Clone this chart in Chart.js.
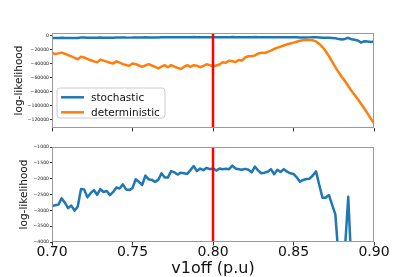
<!DOCTYPE html>
<html>
<head>
<meta charset="utf-8">
<script src="https://cdn.jsdelivr.net/npm/chart.js@4.4.1/dist/chart.umd.min.js"></script>
<style>
  html, body { margin: 0; padding: 0; background: #fff; }
  #wrap { position: relative; width: 415px; height: 277px; }
  canvas { position: absolute; left: 0; }
</style>
</head>
<body>
<div id="wrap">
  <canvas id="top" width="415" height="140" style="top:0"></canvas>
  <canvas id="bot" width="415" height="137" style="top:140px"></canvas>
</div>
<script>
// ---- data ----
const xStart = 0.70, xStep = 0.002;
const seriesNames = ['stochastic', 'deterministic'];
const refX = 0.80;

const stochastic = [
  -2860, -2840, -2820, -2620, -2760, -2930, -2850, -3010, -2880, -2330,
  -2340, -2590, -2460, -2360, -2510, -2330, -2420, -2390, -2520, -2420,
  -2280, -2310, -2180, -2340, -2360, -2300, -2020, -2100, -2200, -1905,
  -2020, -2040, -2100, -2040, -1830, -1960, -1960, -1760, -1800, -1870,
  -1810, -1830, -1850, -1730, -1600, -1760, -1680, -1730, -1660, -1700,
  -1674, -1745, -1680, -1700, -1690, -1700, -1590, -1680, -1700, -1720,
  -1690, -1720, -1800, -1620, -1740, -1830, -1810, -1780, -1700, -1860,
  -1720, -1790, -1700, -1780, -1830, -1850, -1958, -2095, -2040, -2010,
  -2000, -1900, -1770, -2200, -2600, -2600, -2515, -2830, -3125, -4500,
  -5000, -4200, -2570, -4800, -5500, -6500, -9500, -7500, -8000, -8500,
  -8000
];

const deterministic = [
  -24000, -26000, -25000, -24000, -25500, -27500, -29500, -31500, -33500, -30000,
  -31000, -33000, -35000, -36500, -38000, -34000, -35500, -37000, -38500, -39500,
  -36500, -38500, -40500, -41800, -43000, -39500, -40500, -42500, -44600, -42500,
  -40500, -42500, -44500, -46500, -44000, -42000, -45000, -42000, -44000, -46000,
  -47500, -44500, -42000, -44500, -42000, -42700, -45000, -43000, -40800, -42000,
  -43500, -42500, -41000, -37900, -38500, -35500, -36500, -37500, -34500, -35500,
  -31000, -29000, -29000, -28000, -25500, -24000, -24500, -23000, -21000, -18700,
  -16800, -15400, -13700, -12000, -10800, -9600, -8200, -6900, -6200, -5800,
  -5800, -6300, -7800, -11500, -16000, -22000, -29000, -37000, -45000, -52000,
  -59000, -65000, -72000, -79000, -85000, -91000, -98000, -104500, -111500, -119000,
  -125800
];

const xTicks = [0.70, 0.75, 0.80, 0.85, 0.90];
const yTicksTop = [0, -20000, -40000, -60000, -80000, -100000, -120000];
const yTicksBot = [-1000, -1500, -2000, -2500, -3000, -3500, -4000];
const topRange = [-132500, 4300];
const botRange = [-4000, -1000];

// ---- helpers ----
Chart.defaults.font.family = "'DejaVu Sans', sans-serif";
Chart.defaults.color = '#222';
const BLUE = '#1f77b4', ORANGE = '#ff7f0e', RED = '#ff0000';

function pts(arr) { return arr.map((v, i) => ({ x: +(xStart + i * xStep).toFixed(4), y: v })); }
function fmt(v) { return String(v).replace('-', '\u2212'); }

const framePlugin = {
  id: 'frame',
  afterDraw(chart) {
    const { ctx, chartArea: a } = chart;
    ctx.save();
    ctx.strokeStyle = '#9a9a9a';
    ctx.lineWidth = 1;
    ctx.strokeRect(a.left + 0.5, a.top + 0.5, a.right - a.left - 1, a.bottom - a.top - 1);
    ctx.restore();
  }
};

const legendPlugin = {
  id: 'boxLegend',
  afterDraw(chart) {
    const { ctx, chartArea: a } = chart;
    const items = [[seriesNames[0], BLUE], [seriesNames[1], ORANGE]];
    const x = a.left + 5, y = a.bottom - 40, w = 108, h = 30, r = 3;
    ctx.save();
    ctx.beginPath();
    ctx.moveTo(x + r, y); ctx.lineTo(x + w - r, y); ctx.quadraticCurveTo(x + w, y, x + w, y + r);
    ctx.lineTo(x + w, y + h - r); ctx.quadraticCurveTo(x + w, y + h, x + w - r, y + h);
    ctx.lineTo(x + r, y + h); ctx.quadraticCurveTo(x, y + h, x, y + h - r);
    ctx.lineTo(x, y + r); ctx.quadraticCurveTo(x, y, x + r, y);
    ctx.closePath();
    ctx.fillStyle = 'rgba(255,255,255,0.85)';
    ctx.fill();
    ctx.strokeStyle = '#cccccc';
    ctx.lineWidth = 1;
    ctx.stroke();
    ctx.font = "10.5px 'DejaVu Sans'";
    ctx.textBaseline = 'middle';
    items.forEach((it, i) => {
      const yy = y + 9.3 + i * 15;
      ctx.strokeStyle = it[1];
      ctx.lineWidth = 2.5;
      ctx.beginPath(); ctx.moveTo(x + 4, yy); ctx.lineTo(x + 27, yy); ctx.stroke();
      ctx.fillStyle = '#111';
      ctx.fillText(it[0], x + 34, yy + 0.5);
    });
    ctx.restore();
  }
};

function lineDs(label, data, color, order) {
  return { label, data: pts(data), borderColor: color, backgroundColor: color, borderWidth: 2.5,
           pointRadius: 0, tension: 0, order, clip: 0, borderJoinStyle: 'round', borderCapStyle: 'round' };
}
function refDs(range) {
  return { label: 'ref', data: [{ x: refX, y: range[0] }, { x: refX, y: range[1] }], borderColor: RED,
           borderWidth: 2.5, pointRadius: 0, order: 0, clip: 0 };
}

function makeChart(id, datasets, yRange, yTicks, opts) {
  return new Chart(document.getElementById(id), {
    type: 'line',
    data: { datasets },
    options: {
      responsive: false, animation: false, events: [],
      layout: { padding: { top: opts.padTop, right: 41, left: 0, bottom: 0 } },
      plugins: { legend: { display: false }, tooltip: { enabled: false } },
      scales: {
        x: {
          type: 'linear', min: xTicks[0], max: xTicks[xTicks.length - 1],
          afterBuildTicks: s => { s.ticks = xTicks.map(v => ({ value: v })); },
          afterFit: s => { s.height = opts.xHeight; },
          border: { display: false },
          grid: { drawOnChartArea: false, drawTicks: true, tickLength: 3.5, color: '#333' },
          ticks: { display: opts.showX, padding: -2, font: { size: 14 }, color: '#111',
                   callback: v => Number(v).toFixed(2), maxRotation: 0, autoSkip: false },
          title: { display: opts.showX, text: 'v1off (p.u)', font: { size: 16, lineHeight: 1 },
                   color: '#111', padding: { top: 0, bottom: 0 } }
        },
        y: {
          min: yRange[0], max: yRange[1],
          afterBuildTicks: s => { s.ticks = yTicks.map(v => ({ value: v })); },
          afterFit: s => { s.width = 52; },
          border: { display: false },
          grid: { drawOnChartArea: false, drawTicks: true, tickLength: 2, color: '#333' },
          ticks: { padding: 1, font: { size: 4.6 }, color: '#222', callback: v => fmt(v), autoSkip: false },
          title: { display: true, text: 'log-likelihood', font: { size: 10.5, lineHeight: 1.2 },
                   color: '#111', padding: { top: opts.titlePad, bottom: 0 } }
        }
      }
    },
    plugins: opts.legend ? [framePlugin, legendPlugin] : [framePlugin]
  });
}

makeChart('top',
  [refDs(topRange), lineDs(seriesNames[1], deterministic, ORANGE, 1), lineDs(seriesNames[0], stochastic, BLUE, 2)],
  topRange, yTicksTop, { padTop: 33, xHeight: 12, showX: false, titlePad: 12.7, legend: true });

makeChart('bot',
  [refDs(botRange), lineDs(seriesNames[0], stochastic, BLUE, 2)],
  botRange, yTicksBot, { padTop: 7, xHeight: 35, showX: true, titlePad: 17.7, legend: false });
</script>
</body>
</html>
